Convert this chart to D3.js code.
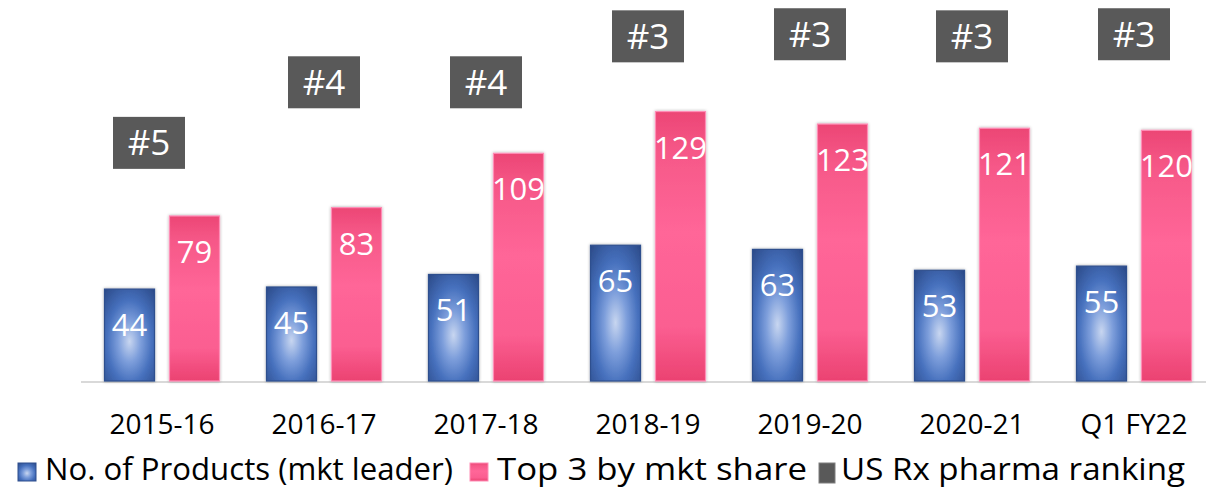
<!DOCTYPE html>
<html>
<head>
<meta charset="utf-8">
<script src="https://cdn.jsdelivr.net/npm/d3@7"></script>
<style>
  body { margin: 0; background: #fff; }
  svg { display: block; font-family: 'Open Sans', 'Noto Sans', sans-serif; }
</style>
</head>
<body>
<svg width="1206" height="489"></svg>
<script>
const categories = ['2015-16', '2016-17', '2017-18', '2018-19', '2019-20', '2020-21', 'Q1 FY22'];
const products = [44, 45, 51, 65, 63, 53, 55];
const top3 = [79, 83, 109, 129, 123, 121, 120];
const ranking = ['#5', '#4', '#4', '#3', '#3', '#3', '#3'];
// height (in value units) where the ranking label sits
const rankLevel = [114, 143, 143, 165, 166, 165, 166];
const seriesNames = ['No. of Products (mkt leader)', 'Top 3 by mkt share', 'US Rx pharma ranking'];

(function (d3) {
  'use strict';

  const svg = d3.select('svg');
  const width = +svg.attr('width');

  const defs = svg.append('defs');

  const blueGrad = defs.append('radialGradient')
    .attr('id', 'blueGrad')
    .attr('cx', '50%').attr('cy', '57%').attr('r', '75%');
  [[0, '#c8d6f0'], [0.3, '#7d9edb'], [0.6, '#4670bd'], [1, '#2b4a88']].forEach(s => {
    blueGrad.append('stop').attr('offset', s[0]).attr('stop-color', s[1]);
  });

  const pinkGrad = defs.append('linearGradient')
    .attr('id', 'pinkGrad')
    .attr('x1', 0).attr('y1', 0).attr('x2', 0).attr('y2', 1);
  [[0, '#ec4675'], [0.15, '#f65888'], [0.45, '#ff6698'], [0.8, '#fb5e91'], [1, '#eb4271']].forEach(s => {
    pinkGrad.append('stop').attr('offset', s[0]).attr('stop-color', s[1]);
  });

  const shadow = defs.append('filter')
    .attr('id', 'shadow')
    .attr('x', '-20%').attr('y', '-20%').attr('width', '140%').attr('height', '140%');
  shadow.append('feDropShadow')
    .attr('dx', 0).attr('dy', 0)
    .attr('stdDeviation', 1.6)
    .attr('flood-color', '#000')
    .attr('flood-opacity', 0.35);

  const x = d3.scaleBand()
    .domain(categories)
    .range([81, 1215]);

  const xInner = d3.scaleBand()
    .domain(['products', 'top3'])
    .range([x.bandwidth() / 2 - 57.5, x.bandwidth() / 2 + 57.5])
    .paddingInner(0.23);

  const y = d3.scaleLinear()
    .domain([0, 180])
    .range([381, 5]);

  const data = categories.map((c, i) => ({
    category: c,
    products: products[i],
    top3: top3[i],
    rank: ranking[i],
    rankLevel: rankLevel[i]
  }));

  // baseline
  svg.append('line')
    .attr('x1', 81).attr('x2', width)
    .attr('y1', y(0) + 1).attr('y2', y(0) + 1)
    .attr('stroke', '#d9d9d9')
    .attr('stroke-width', 2);

  const groups = svg.selectAll('.group')
    .data(data)
    .enter().append('g')
      .attr('class', 'group')
      .attr('transform', d => `translate(${x(d.category)},0)`);

  const series = [
    { key: 'products', fill: 'url(#blueGrad)', stroke: '#2f4f8e' },
    { key: 'top3', fill: 'url(#pinkGrad)', stroke: '#ff8db6' }
  ];

  series.forEach(s => {
    groups.append('rect')
      .attr('x', xInner(s.key))
      .attr('y', d => y(d[s.key]))
      .attr('width', xInner.bandwidth())
      .attr('height', d => y(0) - y(d[s.key]))
      .attr('fill', s.fill)
      .attr('stroke', s.stroke)
      .attr('stroke-width', 1.2)
      .attr('filter', 'url(#shadow)');

    groups.append('text')
      .attr('x', xInner(s.key) + xInner.bandwidth() / 2)
      .attr('y', d => y(d[s.key]) + 47)
      .attr('text-anchor', 'middle')
      .attr('fill', '#fff')
      .attr('font-size', 31)
      .text(d => d[s.key]);
  });

  // ranking boxes (first one sits a little left of centre, as in the source)
  const boxW = 72, boxH = 52;
  const boxShift = (d, i) => (i === 0 ? -13 : 0);
  groups.append('rect')
    .attr('x', (d, i) => x.bandwidth() / 2 - boxW / 2 + boxShift(d, i))
    .attr('y', d => y(d.rankLevel) - boxH / 2)
    .attr('width', boxW)
    .attr('height', boxH)
    .attr('fill', '#595959');

  groups.append('text')
    .attr('x', (d, i) => x.bandwidth() / 2 + boxShift(d, i))
    .attr('y', d => y(d.rankLevel) + 12.5)
    .attr('text-anchor', 'middle')
    .attr('fill', '#fff')
    .attr('font-size', 35)
    .text(d => d.rank);

  // x axis labels
  const xAxis = d3.axisBottom(x).tickSize(0).tickPadding(0);
  const xAxisG = svg.append('g')
    .call(xAxis);
  xAxisG.select('.domain').remove();
  xAxisG.selectAll('text')
    .attr('y', 434)
    .attr('dy', 0)
    .attr('fill', '#000')
    .attr('font-size', 28)
    .attr('font-family', "'Open Sans', 'Noto Sans', sans-serif");

  // legend
  const legendFills = ['url(#blueGrad)', 'url(#pinkGrad)', '#595959'];
  const legendStrokes = ['#2f4f8e', '#ff8db6', '#7f7f7f'];
  const legendWidths = [408, 310, 344];
  const legendGaps = [17, 12, 0];
  const legendTextGap = [27, 27, 22];
  const legend = svg.append('g').attr('class', 'legend');
  let lx = 18;
  seriesNames.forEach((name, i) => {
    legend.append('rect')
      .attr('x', lx).attr('y', 463)
      .attr('width', i === 2 ? 16 : 18).attr('height', i === 2 ? 20 : 18)
      .attr('fill', legendFills[i])
      .attr('stroke', legendStrokes[i])
      .attr('stroke-width', 1);
    legend.append('text')
      .attr('x', lx + legendTextGap[i])
      .attr('y', 480)
      .attr('font-size', 31)
      .attr('fill', '#000')
      .attr('textLength', legendWidths[i])
      .attr('lengthAdjust', 'spacingAndGlyphs')
      .text(name);
    lx = lx + legendTextGap[i] + legendWidths[i] + legendGaps[i];
  });

}(d3));
</script>
</body>
</html>
